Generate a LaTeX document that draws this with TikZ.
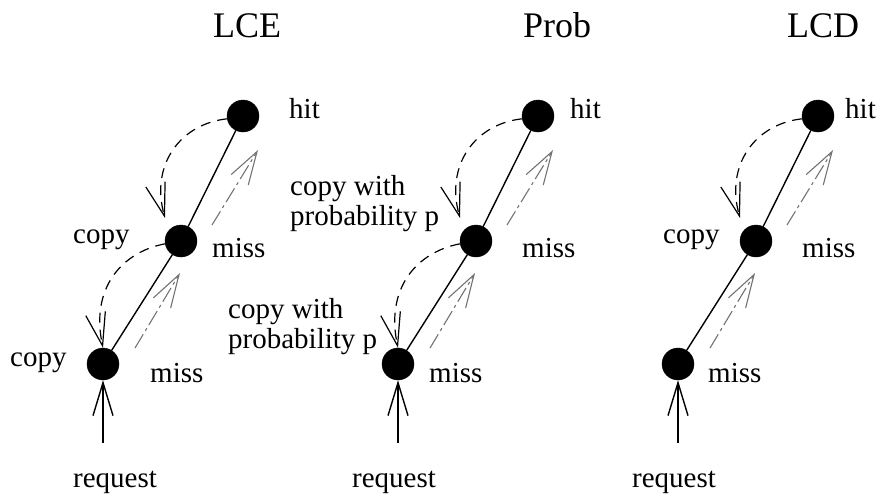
\documentclass[tikz,border=0pt]{standalone}
\usepackage{fontspec}
\setmainfont{Liberation Serif}
\usetikzlibrary{arrows.meta}
\tikzset{
  station/.style={circle,fill=black,draw=black,minimum size=32pt,inner sep=0pt},
  lbl/.style={anchor=base west,inner sep=0pt,font=\fontsize{29}{30}\selectfont},
  lbltwo/.style={anchor=north west,inner sep=0pt,align=left,font=\fontsize{29}{30}\selectfont},
  ttl/.style={anchor=base,inner sep=0pt,font=\fontsize{36}{40}\selectfont},
  head/.style={-{Straight Barb[length=33pt,width=20pt]}},
  link/.style={line width=1.4pt},
  reqline/.style={line width=1.4pt,head},
  missarrow/.style={line width=1.1pt,draw=black!55,dash pattern=on 16pt off 4pt on 3pt off 4pt,head},
  copyarrow/.style={line width=1.2pt,dash pattern=on 10pt off 7pt,head},
}
\newcommand{\chain}[2]{%
  % #1: name prefix, #2: whether the copy arrows are drawn (1 = both, 2 = upper only)
  \node[station] (#1a) at (103,364) {};
  \node[station] (#1b) at (181,241) {};
  \node[station] (#1c) at (243,116) {};
  \draw[link] (#1a) -- (#1b) -- (#1c);
  \coordinate (#1req) at (103,443);
  \draw[reqline] (#1req) -- (#1a);
  \coordinate (#1ma) at (135,348);
  \coordinate (#1mb) at (180,273);
  \draw[missarrow] (#1ma) -- (#1mb);
  \coordinate (#1mc) at (212,225);
  \coordinate (#1md) at (258,150);
  \draw[missarrow] (#1mc) -- (#1md);
  \coordinate (#1tip) at (165,218);
  \draw[copyarrow] (#1c.190) .. controls (180,124) and (150,165) .. (#1tip);
  \ifnum#2=1
    \draw[copyarrow] (#1b.190) .. controls (122,252) and (90,288) .. (#1a.north);
  \fi
}
\begin{document}
\begin{tikzpicture}[x=1pt,y=-1pt]
\useasboundingbox (0,0) rectangle (883,493);

% LCE: copy at every node on the way back
\begin{scope}
  \chain{e}{1}
\end{scope}
\node[ttl] (tE) at (247,37) {LCE};
\node[lbl] (hE) at (289,118) {hit};
\node[lbl] (cE2) at (73,243) {copy};
\node[lbl] (mE2) at (212,257) {miss};
\node[lbl] (cE1) at (10,366) {copy};
\node[lbl] (mE1) at (150,382) {miss};
\node[lbl] (rE) at (73,487) {request};

% Prob: copy with probability p
\begin{scope}[xshift=295pt]
  \chain{p}{1}
\end{scope}
\node[ttl] (tP) at (557,37) {Prob};
\node[lbl] (hP) at (570,118) {hit};
\node[lbltwo] (cP2) at (290,175) {copy with\\probability p};
\node[lbl] (mP2) at (522,257) {miss};
\node[lbltwo] (cP1) at (228,298) {copy with\\probability p};
\node[lbl] (mP1) at (429,382) {miss};
\node[lbl] (rP) at (352,487) {request};

% LCD: copy one level down only
\begin{scope}[xshift=575pt]
  \chain{d}{2}
\end{scope}
\node[ttl] (tD) at (823,37) {LCD};
\node[lbl] (hD) at (845,118) {hit};
\node[lbl] (cD2) at (663,243) {copy};
\node[lbl] (mD2) at (802,257) {miss};
\node[lbl] (mD1) at (708,382) {miss};
\node[lbl] (rD) at (632,487) {request};
\end{tikzpicture}
\end{document}
